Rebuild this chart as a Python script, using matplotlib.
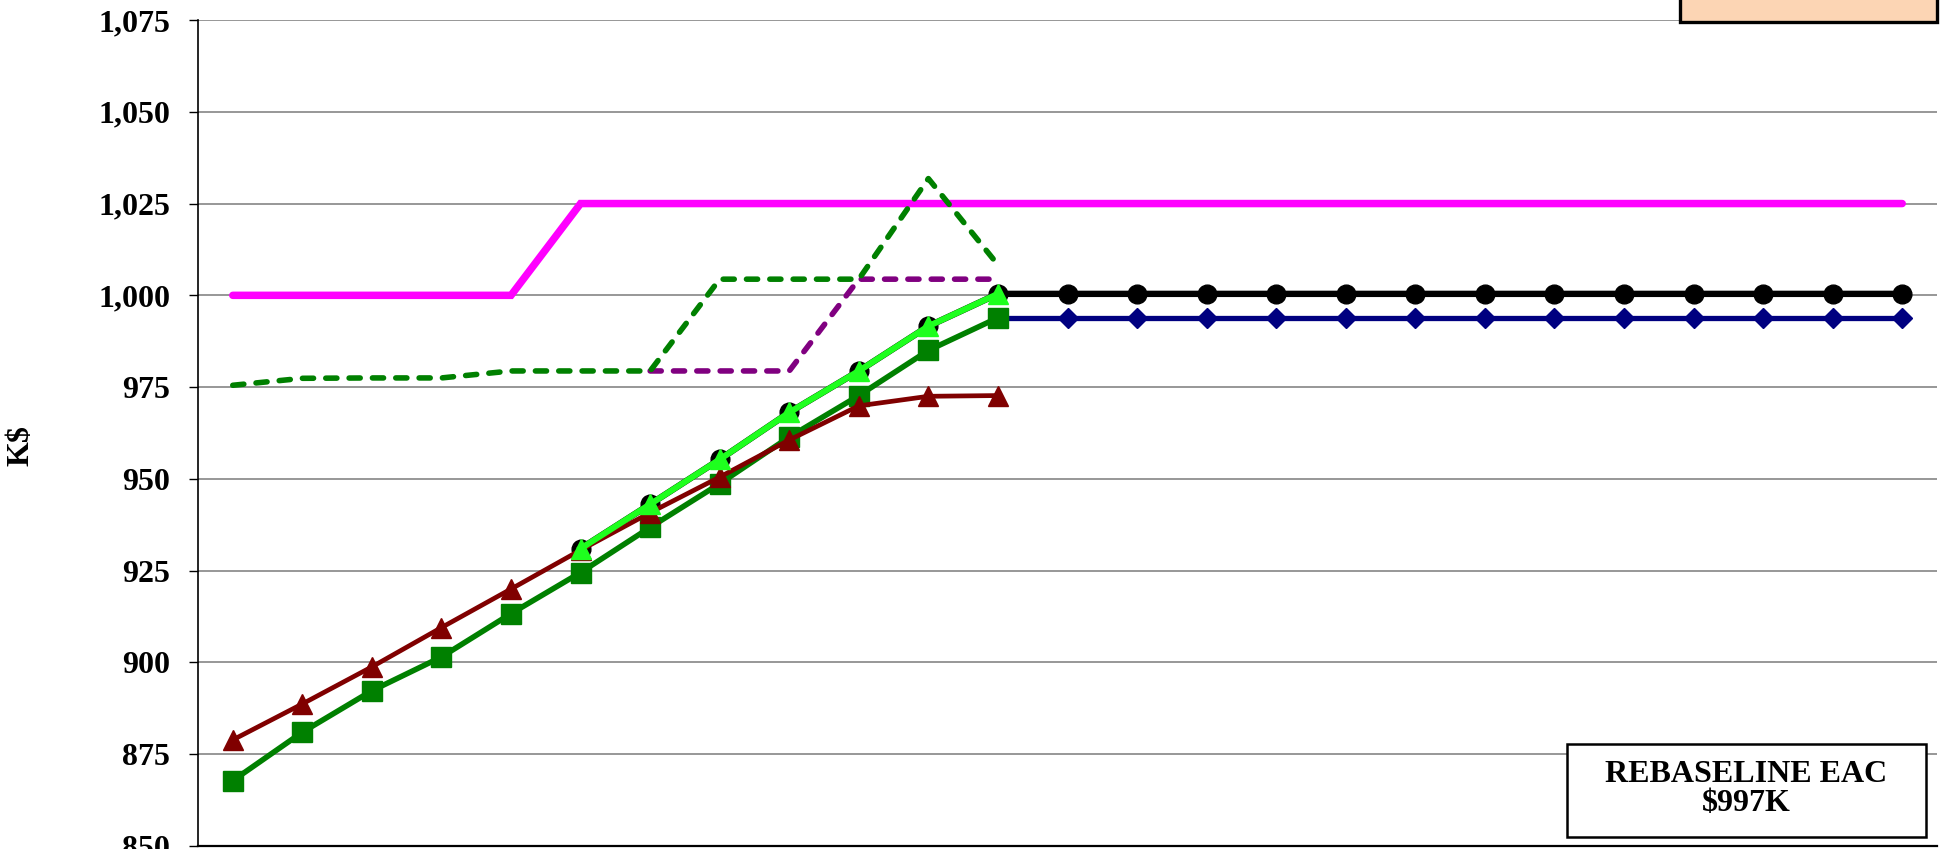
import numpy as np
import matplotlib
matplotlib.use("Agg")
import matplotlib.pyplot as plt
from matplotlib.patches import Rectangle
from matplotlib.ticker import FuncFormatter

nan = np.nan
# 25 monthly categories (labels fall outside the cropped image)
n_periods = 25
periods = np.arange(n_periods)

budget_line = [1000, 1000, 1000, 1000, 1000] + [1025] * 20
eac_green_dashed = [975.5, 977.4, 977.5, 977.5, 979.4, 979.4, 979.4, 1004.4, 1004.4,
                    1004.4, 1031.8, 1008.3] + [nan] * 13
eac_purple_dashed = [nan] * 6 + [979.4, 979.4, 979.4, 1004.4, 1004.4, 1004.4] + [nan] * 13
rebaseline_black = [nan] * 5 + [931.0, 943.1, 955.3, 968.1, 979.4, 991.6, 1000.4] + [1000.4] * 13
actual_lightgreen = [nan] * 5 + [931.0, 943.1, 955.3, 968.1, 979.4, 991.6, 1000.4] + [nan] * 13
cum_green_squares = [867.8, 881.0, 892.3, 901.5, 913.3, 924.5, 936.8, 948.7, 961.4, 972.7,
                     985.0, 993.9] + [nan] * 13
forecast_navy = [nan] * 11 + [993.9] * 14
cum_red_triangles = [878.9, 888.7, 898.8, 909.5, 920.0, 930.6, 940.8, 950.5, 960.6, 969.9,
                     972.5, 972.7] + [nan] * 13

y_ticks = list(range(850, 1076, 25))
y_label = "K$"
box_text = "REBASELINE EAC\n$997K"

W, H = 1944, 849
fig = plt.figure(figsize=(W / 100, H / 100), dpi=100)
serif = ["Liberation Serif", "DejaVu Serif"]
FS = 23

ax = fig.add_axes([198 / W, 1 - 846 / H, (1937 - 198) / W, (846 - 20) / H])
ax.set_xlim(-0.5, n_periods - 0.5)
ax.set_ylim(850, 1075)

ax.set_yticks(y_ticks)
ax.yaxis.set_major_formatter(FuncFormatter(lambda v, p: f"{int(round(v)):,}"))
ax.grid(axis="y", color="#7a7a7a", linewidth=1.1)
ax.set_axisbelow(True)
ax.set_xticks([])
for s in ["top", "right"]:
    ax.spines[s].set_visible(False)
ax.spines["left"].set_color("black")
ax.spines["left"].set_linewidth(1.2)
ax.spines["bottom"].set_color("black")
ax.spines["bottom"].set_linewidth(1.6)
ax.tick_params(axis="y", direction="out", length=6.5, width=1.0, pad=13.5,
               labelsize=FS)
for lab in ax.get_yticklabels():
    lab.set_fontfamily(serif)
    lab.set_fontweight("bold")

ax.plot(periods, budget_line, color="#FF00FF", lw=5.4, solid_capstyle="round",
        solid_joinstyle="miter", zorder=2)
ax.plot(periods, forecast_navy, color="#000080", lw=3.8, marker="D", ms=10.5,
        zorder=3)
ax.plot(periods, rebaseline_black, color="black", lw=4.6, marker="o", ms=13.5,
        zorder=4)
ax.plot(periods, cum_green_squares, color="#008000", lw=4.0, marker="s", ms=14.5,
        zorder=5)
ax.plot(periods, cum_red_triangles, color="#800000", lw=3.4, marker="^", ms=14.5,
        zorder=6)
ax.plot(periods, actual_lightgreen, color="#1EFF1E", lw=4.4, marker="^", ms=14.5,
        zorder=7)
ax.plot(periods, eac_purple_dashed, color="#800080", lw=4.0, dashes=(2.0, 2.2),
        dash_capstyle="round", zorder=8)
ax.plot(periods, eac_green_dashed, color="#008000", lw=4.0, dashes=(2.0, 2.2),
        dash_capstyle="round", zorder=9)

fig.text(21 / W, 1 - 446 / H, y_label, rotation=90, ha="center", va="center",
         fontsize=FS, fontweight="bold", family=serif)

# cropped peach box at the top right
fig.add_artist(Rectangle((1680 / W, 1 - 22 / H), (1937 - 1680) / W, 0.2,
                         transform=fig.transFigure, facecolor="#FCD5B4",
                         edgecolor="black", linewidth=2.4, zorder=10))

# annotation box at bottom right
fig.add_artist(Rectangle((1567 / W, 1 - 837 / H), (1926 - 1567) / W, 93 / H,
                         transform=fig.transFigure, facecolor="white",
                         edgecolor="black", linewidth=1.8, zorder=10))
fig.text(1746 / W, 1 - 789 / H, box_text, ha="center", va="center",
         multialignment="center", linespacing=1.0, fontsize=FS,
         fontweight="bold", family=serif, zorder=11)

fig.savefig("out.png", dpi=100)
